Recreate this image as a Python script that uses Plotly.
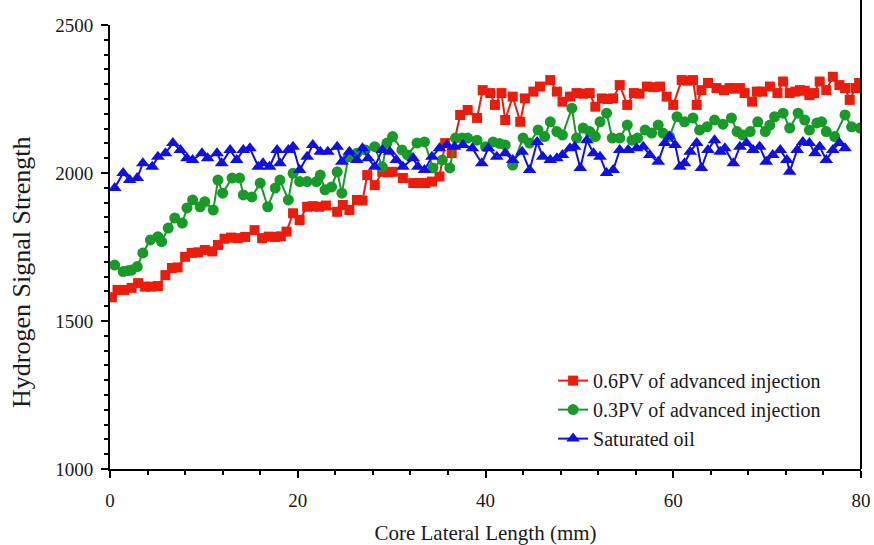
import plotly.graph_objects as go

# 0.6PV of advanced injection (red squares)
red_x = [0.2, 0.8, 1.5, 2.3, 3.0, 3.7, 4.4, 5.1, 5.9, 6.6, 7.2, 8.0, 8.7, 9.4, 10.1, 10.9, 11.5,
         12.2, 12.9, 13.6, 14.4, 15.4, 16.2, 16.9, 17.6, 18.2, 18.8, 19.5, 20.2, 21.0, 21.6, 22.3,
         23.0, 24.2, 24.8, 25.5, 26.3, 26.9, 27.4, 28.2, 29.0, 29.6, 30.1, 31.2, 32.3, 33.0, 33.6,
         34.3, 35.1, 35.7, 36.4, 37.3, 38.1, 39.1, 39.7, 40.5, 41.0, 41.7, 42.1, 42.9, 43.7, 44.2,
         45.1, 45.8, 46.9, 47.6, 48.2, 49.0, 49.7, 50.4, 51.1, 51.7, 52.4, 53.0, 53.6, 54.3, 55.1,
         55.8, 56.4, 57.2, 57.9, 58.6, 59.3, 60.0, 60.9, 61.5, 62.1, 62.5, 63.0, 63.7, 64.6, 65.4,
         66.0, 66.6, 67.1, 67.6, 68.4, 68.9, 69.5, 70.3, 71.1, 71.7, 72.4, 73.0, 73.5, 74.0, 74.5,
         75.0, 75.6, 76.3, 77.0, 77.7, 78.3, 78.8, 79.4, 79.8]
red_y = [1580, 1605, 1605, 1612, 1628, 1616, 1616, 1618, 1655, 1679, 1681, 1717, 1730, 1732, 1740,
         1735, 1757, 1778, 1782, 1780, 1784, 1807, 1780, 1785, 1784, 1786, 1802, 1864, 1841, 1886,
         1888, 1886, 1890, 1869, 1892, 1875, 1909, 1907, 1993, 1959, 2004, 2002, 2004, 1983, 1966,
         1966, 1966, 1971, 1988, 2101, 2067, 2196, 2213, 2186, 2280, 2270, 2230, 2270, 2179, 2258,
         2173, 2252, 2275, 2292, 2314, 2275, 2241, 2258, 2270, 2268, 2270, 2224, 2252, 2250, 2252,
         2297, 2230, 2270, 2268, 2292, 2290, 2292, 2258, 2230, 2314, 2312, 2314, 2230, 2280, 2304,
         2287, 2280, 2287, 2285, 2287, 2270, 2241, 2275, 2275, 2292, 2270, 2309, 2270, 2275, 2280,
         2278, 2263, 2270, 2309, 2280, 2325, 2297, 2287, 2247, 2287, 2304]

# 0.3PV of advanced injection (green circles)
green_x = [0.5, 1.4, 1.9, 2.3, 2.9, 3.5, 4.3, 5.1, 5.5, 6.2, 6.9, 7.7, 8.2, 8.8, 9.6, 10.1, 11.0,
           11.5, 12.0, 13.0, 13.8, 14.2, 15.1, 16.0, 16.8, 17.6, 18.1, 19.0, 19.5, 20.2, 21.0,
           22.0, 22.4, 22.9, 23.6, 24.2, 24.7, 25.4, 26.3, 27.2, 28.2, 29.0, 29.5, 30.1, 31.1,
           31.7, 32.7, 33.5, 34.4, 35.4, 36.2, 36.8, 37.5, 38.1, 39.1, 40.0, 40.8, 41.5, 42.1,
           42.9, 44.0, 44.7, 45.6, 46.3, 46.9, 47.6, 48.2, 49.2, 49.7, 50.4, 51.1, 51.7, 52.2,
           52.9, 53.5, 54.3, 55.1, 55.6, 56.2, 57.0, 57.7, 58.4, 58.9, 59.6, 60.4, 61.2, 62.1,
           62.8, 63.6, 64.4, 65.3, 66.2, 66.8, 67.4, 68.2, 69.0, 69.8, 70.3, 70.8, 71.7, 72.4,
           73.3, 74.0, 74.5, 75.3, 75.8, 76.3, 77.2, 78.3, 79.0, 79.9]
green_y = [1689, 1667, 1670, 1672, 1684, 1730, 1774, 1785, 1768, 1814, 1848, 1831, 1882, 1909,
           1886, 1903, 1875, 1976, 1932, 1983, 1983, 1926, 1919, 1966, 1886, 1949, 1976, 1909,
           1999, 1971, 1971, 1971, 1993, 1943, 1953, 2004, 1932, 2055, 2067, 2078, 2089, 2021,
           2101, 2123, 2078, 2061, 2101, 2105, 2017, 2044, 2017, 2118, 2118, 2118, 2111, 2089,
           2105, 2100, 2095, 2027, 2118, 2101, 2145, 2123, 2173, 2140, 2128, 2219, 2118, 2152,
           2140, 2123, 2173, 2202, 2118, 2118, 2162, 2111, 2118, 2145, 2135, 2162, 2135, 2123,
           2190, 2173, 2186, 2145, 2156, 2179, 2165, 2186, 2140, 2128, 2140, 2173, 2140, 2162,
           2190, 2202, 2152, 2202, 2179, 2145, 2169, 2173, 2140, 2123, 2196, 2156, 2152]

# Saturated oil (blue triangles)
blue_x = [0.5, 1.4, 2.1, 2.9, 3.5, 4.5, 5.1, 5.9, 6.7, 7.5, 8.2, 8.8, 9.8, 10.4, 11.4, 11.9, 12.8,
          13.5, 14.2, 14.9, 15.8, 16.3, 17.0, 17.8, 18.1, 19.0, 19.5, 20.2, 21.0, 21.6, 22.4,
          23.2, 24.2, 24.7, 25.5, 26.3, 26.9, 27.5, 28.2, 29.0, 29.8, 30.5, 31.2, 32.3, 32.8,
          33.5, 34.3, 35.1, 35.9, 36.7, 37.6, 38.6, 39.6, 40.3, 41.2, 42.1, 42.9, 43.9, 44.7,
          45.5, 46.1, 46.9, 47.6, 48.2, 49.0, 49.5, 50.1, 50.8, 51.5, 52.2, 52.9, 53.6, 54.3,
          55.2, 56.1, 56.8, 57.5, 58.4, 59.1, 59.6, 60.2, 60.7, 61.2, 61.8, 62.5, 63.0, 63.7,
          64.4, 65.0, 65.5, 66.4, 67.1, 67.8, 68.5, 69.2, 69.9, 70.6, 71.4, 72.1, 72.4, 73.2,
          73.8, 74.5, 75.1, 75.6, 76.3, 77.0, 77.7, 78.3]
blue_y = [1949, 2000, 1976, 1983, 2033, 2021, 2055, 2067, 2101, 2078, 2050, 2044, 2067, 2050,
          2067, 2033, 2078, 2044, 2078, 2084, 2021, 2033, 2021, 2078, 2033, 2078, 2089, 2010,
          2055, 2095, 2072, 2072, 2089, 2038, 2072, 2044, 2084, 2050, 2021, 2078, 2072, 2044,
          2021, 2050, 2021, 2010, 2055, 2084, 2095, 2089, 2095, 2084, 2033, 2084, 2055, 2067,
          2044, 2072, 2010, 2105, 2055, 2044, 2050, 2061, 2084, 2089, 2017, 2111, 2067, 2055,
          2000, 2010, 2078, 2078, 2084, 2089, 2061, 2038, 2101, 2123, 2095, 2021, 2033, 2072,
          2101, 2017, 2078, 2111, 2072, 2084, 2033, 2089, 2101, 2078, 2089, 2038, 2061, 2078,
          2044, 2004, 2078, 2105, 2101, 2067, 2089, 2044, 2078, 2101, 2084]

x_ticks = [0, 20, 40, 60, 80]
y_ticks = [1000, 1500, 2000, 2500]
x_title = "Core Lateral Length (mm)"
y_title = "Hydrogen Signal Strength"

FONT = "Liberation Serif"
TXT = "#1a1a1a"

fig = go.Figure()
fig.add_trace(go.Scatter(x=red_x, y=red_y, mode="lines+markers",
                         name="0.6PV of advanced injection",
                         line=dict(color="#ec1c0c", width=2),
                         marker=dict(symbol="square", size=10, color="#ec1c0c")))
fig.add_trace(go.Scatter(x=green_x, y=green_y, mode="lines+markers",
                         name="0.3PV of advanced injection",
                         line=dict(color="#189a28", width=2),
                         marker=dict(symbol="circle", size=11, color="#189a28")))
fig.add_trace(go.Scatter(x=blue_x, y=blue_y, mode="lines+markers",
                         name="Saturated oil",
                         line=dict(color="#1010e6", width=2),
                         marker=dict(symbol="triangle-up", size=12, color="#1010e6")))

fig.update_layout(
    width=874, height=545,
    margin=dict(l=110, r=13, t=25, b=76, autoexpand=False),
    paper_bgcolor="white", plot_bgcolor="white",
    font=dict(family=FONT, size=18, color=TXT),
    showlegend=True,
    legend=dict(x=0.590, y=0.243, xanchor="left", yanchor="top",
                bgcolor="rgba(0,0,0,0)", font=dict(family=FONT, size=20, color=TXT),
                tracegroupgap=0, itemwidth=30),
    xaxis=dict(range=[0, 80], tickvals=x_ticks, ticktext=[str(v) for v in x_ticks],
               automargin=False, ticklabeloverflow="allow",
               showgrid=False, zeroline=False, showline=True, linecolor="black", linewidth=2,
               ticks="outside", ticklen=7, tickwidth=2, tickcolor="black",
               ticklabelstandoff=6,
               minor=dict(dtick=4, ticks="outside", ticklen=4, tickwidth=2, tickcolor="black"),
               tickfont=dict(family=FONT, size=19, color=TXT),
               title=dict(text=x_title, standoff=21,
                          font=dict(family=FONT, size=21, color=TXT))),
    yaxis=dict(range=[1000, 2500], tickvals=y_ticks, ticktext=[str(v) for v in y_ticks],
               automargin=False, ticklabeloverflow="allow",
               showgrid=False, zeroline=False, showline=True, linecolor="black", linewidth=2,
               ticks="outside", ticklen=7, tickwidth=2, tickcolor="black",
               ticklabelstandoff=4,
               minor=dict(dtick=50, ticks="outside", ticklen=4, tickwidth=2, tickcolor="black"),
               tickfont=dict(family=FONT, size=19, color=TXT)),
)

# y-axis title, placed lower than the axis centre as in the reference
fig.add_annotation(text=y_title, xref="paper", yref="paper", x=-0.117, y=0.444,
                   textangle=-90, showarrow=False, xanchor="center", yanchor="middle",
                   font=dict(family=FONT, size=26, color=TXT))

# right frame line extending to top of image
fig.add_shape(type="line", xref="paper", yref="paper", x0=1, x1=1, y0=0, y1=1.06,
              line=dict(color="black", width=2))

fig.write_html("out.html")
